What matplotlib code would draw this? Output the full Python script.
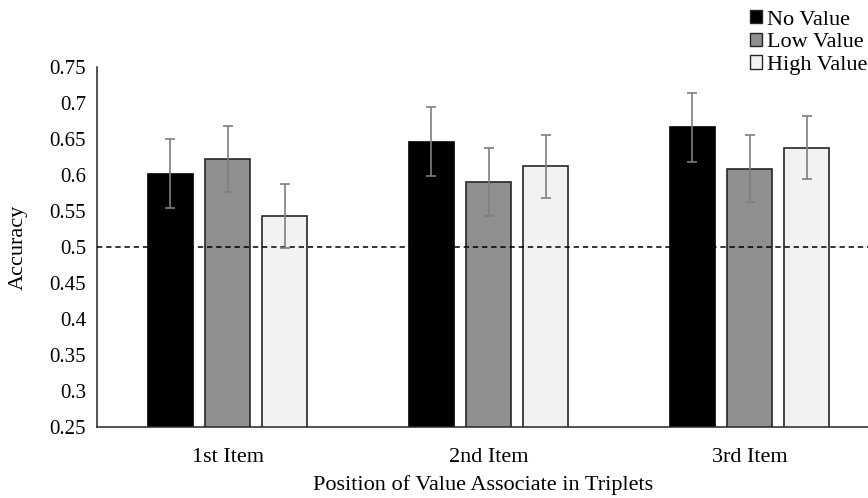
import numpy as np
import matplotlib
matplotlib.use("Agg")
import matplotlib.pyplot as plt
from matplotlib.patches import Patch

# data
categories = ["1st Item", "2nd Item", "3rd Item"]
series_names = ["No Value", "Low Value", "High Value"]
no_value = [0.602, 0.646, 0.666]
low_value = [0.622, 0.590, 0.609]
high_value = [0.543, 0.612, 0.638]
no_err = [0.048, 0.048, 0.048]
low_err = [0.046, 0.047, 0.046]
high_err = [0.044, 0.044, 0.044]
y_ticks = [0.25, 0.3, 0.35, 0.4, 0.45, 0.5, 0.55, 0.6, 0.65, 0.7, 0.75]
y_tick_labels = ["0.25", "0.3", "0.35", "0.4", "0.45", "0.5", "0.55", "0.6", "0.65", "0.7", "0.75"]
chance = 0.5

plt.rcParams['font.family'] = ['Liberation Serif', 'DejaVu Serif']

W, H = 868, 498
fig = plt.figure(figsize=(W / 100, H / 100), dpi=100)
# axes extends a bit past the right edge, like the cropped original
ax = fig.add_axes([97 / W, (H - 427) / H, 783 / W, 360 / H])

x = np.arange(len(categories))
width = 0.172
step = 0.22
fills = ['#000000', '#8f8f8f', '#f2f2f2']
edges = ['#000000', '#262626', '#262626']
values = [no_value, low_value, high_value]
errs = [no_err, low_err, high_err]

for i in range(3):
    pos = x + (i - 1) * step
    ax.bar(pos, values[i], width, bottom=0, color=fills[i], edgecolor=edges[i],
           linewidth=1.2, zorder=2)
    ax.errorbar(pos, values[i], yerr=errs[i], fmt='none', ecolor='#7f7f7f',
                elinewidth=1.2, capsize=3.5, capthick=1.2, zorder=4)

ax.axhline(chance, color='#000000', linestyle=(0, (3.5, 2.5)), linewidth=1.1, zorder=3)

ax.set_xlim(-0.5, 2.5)
ax.set_ylim(0.25, 0.75)
ax.set_yticks(y_ticks)
ax.set_yticklabels(y_tick_labels)
ax.set_xticks(x)
ax.set_xticklabels(categories)
ax.tick_params(axis='both', length=0, colors='#000000')
ax.tick_params(axis='x', pad=15, labelsize=16)
ax.tick_params(axis='y', pad=8, labelsize=15)

for s in ['top', 'right']:
    ax.spines[s].set_visible(False)
for s in ['left', 'bottom']:
    ax.spines[s].set_color('#262626')
    ax.spines[s].set_linewidth(1.1)

ax.set_xlabel("Position of Value Associate in Triplets", fontsize=16)
ax.xaxis.set_label_coords(0.493, -0.133)
ax.set_ylabel("Accuracy", fontsize=16, va='center')
ax.yaxis.set_label_coords(-0.1, 0.5)

handles = [Patch(facecolor=fills[i], edgecolor='#262626', linewidth=1.0)
           for i in range(3)]
fig.legend(handles, series_names, loc='upper left', bbox_to_anchor=(740 / W, 1.0),
           frameon=False, fontsize=16, handlelength=0.55, handleheight=0.55,
           handletextpad=0.2, labelspacing=0.14, borderaxespad=0.05)

fig.savefig("out.png", dpi=100)
